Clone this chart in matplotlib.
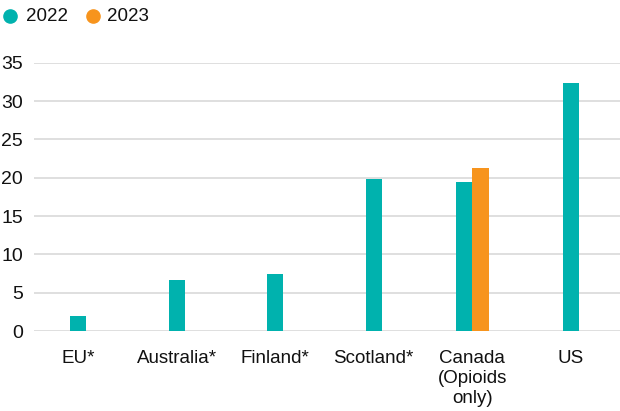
import matplotlib
matplotlib.use("Agg")
import matplotlib.pyplot as plt
from matplotlib.lines import Line2D
import numpy as np

plt.rcParams['font.family'] = ['Liberation Sans', 'DejaVu Sans']

categories = ["EU*", "Australia*", "Finland*", "Scotland*", "Canada\n(Opioids\nonly)", "US"]
values_2022 = [1.9, 6.6, 7.4, 19.8, 19.5, 32.3]
values_2023 = [None, None, None, None, 21.2, None]
yticks = [0, 5, 10, 15, 20, 25, 30, 35]
series_labels = ["2022", "2023"]

teal = "#00B2AE"
orange = "#F7941D"
W, H = 620, 411

fig = plt.figure(figsize=(W/100, H/100), dpi=100)
ax = fig.add_axes([34/W, 1 - 331/H, 1 - 34/W, (331 - 62.7)/H])

x = np.arange(len(categories))
w = 0.165
for i, (a, b) in enumerate(zip(values_2022, values_2023)):
    if b is None:
        ax.bar(x[i], a, width=w, color=teal, zorder=3)
    else:
        ax.bar(x[i] - w/2, a, width=w, color=teal, zorder=3)
        ax.bar(x[i] + w/2, b, width=w, color=orange, zorder=3)

ax.set_xlim(-0.45, 5.5)
ax.set_ylim(0, 35)
ax.set_yticks(yticks)
ax.set_yticklabels([str(t) for t in yticks], fontsize=14, color="#111111")
ax.set_xticks(x)
ax.set_xticklabels(categories, fontsize=13.5, color="#111111", linespacing=1.2)
ax.tick_params(axis='y', length=0, pad=8)
ax.tick_params(axis='x', length=0, pad=14)
ax.grid(axis='y', color="#d9d9d9", linewidth=1.2, zorder=0)
ax.set_axisbelow(True)
for s in ax.spines.values():
    s.set_visible(False)

# legend drawn manually in pixel coordinates
for cx, tx, col, lab in [(10, 26, teal, series_labels[0]), (93, 107, orange, series_labels[1])]:
    fig.add_artist(Line2D([cx/W], [1 - 16/H], marker='o', markersize=9.5, color=col,
                          linestyle='', transform=fig.transFigure))
    fig.text(tx/W, 1 - 16.5/H, lab, fontsize=13.5, color="#111111", va='center', ha='left')

fig.savefig("out.png", dpi=100)
